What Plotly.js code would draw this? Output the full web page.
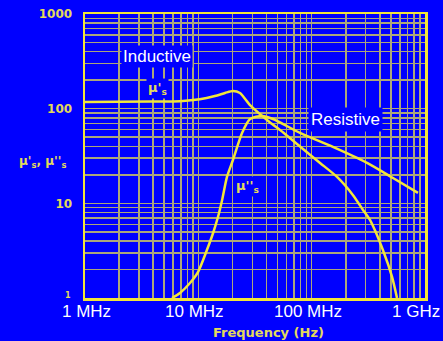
<!DOCTYPE html>
<html>
<head>
<meta charset="utf-8">
<script src="https://cdn.plot.ly/plotly-3.0.1.min.js"></script>
<style>html,body{margin:0;padding:0;background:#0000ff;}#chart{width:443px;height:341px;}</style>
</head>
<body>
<div id="chart"></div>
<script>
// Frequency (Hz) and permeability values
var muRealFreq = [1e6, 3.75e6, 6.9e6, 10.3e6, 14e6, 17.2e6, 20.2e6, 23.3e6, 28.6e6, 40.4e6, 58.2e6, 83.9e6, 118.6e6, 167.5e6, 231.7e6, 284e6, 327e6, 426e6, 512e6, 566e6];
var muRealVal  = [117.6, 119, 120, 125.6, 136, 146.5, 154, 146.5, 109, 75.9, 54.0, 37.5, 26.7, 19.0, 12.2, 8.5, 6.67, 3.2, 1.67, 1.0];

var muImagFreq = [5.86e6, 6.89e6, 8.44e6, 9.93e6, 11.9e6, 13.5e6, 14.9e6, 16.2e6, 17.9e6, 20.2e6, 24.3e6, 28.6e6, 36.5e6, 45.6e6, 78.9e6, 154e6, 308e6, 522e6, 867e6];
var muImagVal  = [1.0, 1.13, 1.44, 1.88, 3.21, 4.86, 7.17, 10.8, 19, 28.7, 55.4, 77.8, 83.8, 77.8, 55.4, 39.4, 26.7, 18.5, 12.9];

// Grid / tick positions
var xGridVals = [];
var yGridVals = [];
[6,7,8].forEach(function(e){ for (var m=1;m<10;m++) xGridVals.push(m*Math.pow(10,e)); });
xGridVals.push(1e9);
[0,1,2].forEach(function(e){ for (var m=1;m<10;m++) yGridVals.push(m*Math.pow(10,e)); });
yGridVals.push(1000);

var xTickVals = [1e6, 1e7, 1e8, 1e9];
var xTickText = ['1 MHz', '10 MHz', '100 MHz', '1 GHz'];
var xTickShift = [1, -4, -4, -9];
var yTickMap = {10: '10', 100: '100', 1000: '1000'};
var yTickText = yGridVals.map(function(v){ return yTickMap[v] || ''; });
var xGridText = xGridVals.map(function(){ return ''; });

var yellow = '#f2e53a';
var paleYellow = '#e3da5c';
var gridCol = '#aca67a';
var blue = '#0000ff';

var traces = [
  {x: muRealFreq, y: muRealVal, mode: 'lines', line: {color: yellow, width: 2.5, shape: 'spline', smoothing: 0.7}, hoverinfo: 'skip'},
  {x: muImagFreq, y: muImagVal, mode: 'lines', line: {color: yellow, width: 2.5, shape: 'spline', smoothing: 0.7}, hoverinfo: 'skip'}
];

var annotations = [];
xTickVals.forEach(function(v, i){
  annotations.push({x: Math.log10(v), y: 0, xref: 'x', yref: 'paper', yanchor: 'top', yshift: -2, xshift: xTickShift[i],
    text: xTickText[i], showarrow: false, font: {family: 'Liberation Sans, Arial, sans-serif', size: 17, color: '#ffffff'}});
});
annotations.push(
  {x: 0, y: 0, xref: 'paper', yref: 'paper', xanchor: 'right', yanchor: 'middle', xshift: -12, yshift: 3,
   text: '1', showarrow: false, font: {family: 'DejaVu Sans, sans-serif', size: 8, color: paleYellow, weight: 'bold'}},
  {x: Math.log10(4.28e6), y: Math.log10(352), xref: 'x', yref: 'y', text: 'Inductive', showarrow: false,
   font: {family: 'Liberation Sans, Arial, sans-serif', size: 17, color: '#ffffff'}, bgcolor: blue, borderpad: 1},
  {x: Math.log10(4.37e6), y: Math.log10(165), xref: 'x', yref: 'y', text: "μ'<sub>s</sub>", showarrow: false,
   font: {family: 'DejaVu Sans, sans-serif', size: 13, color: paleYellow, weight: 'bold'}, bgcolor: blue},
  {x: Math.log10(1.99e8), y: Math.log10(76.9), xref: 'x', yref: 'y', text: 'Resistive', showarrow: false,
   font: {family: 'Liberation Sans, Arial, sans-serif', size: 17, color: '#ffffff'}, bgcolor: blue, borderpad: 2},
  {x: Math.log10(2.72e7), y: Math.log10(14.9), xref: 'x', yref: 'y', text: "μ''<sub>s</sub>", showarrow: false,
   font: {family: 'DejaVu Sans, sans-serif', size: 13, color: paleYellow, weight: 'bold'}, bgcolor: blue},
  {x: -0.125, y: 0.479, xref: 'paper', yref: 'paper', xanchor: 'center', yanchor: 'middle', text: "μ'<sub>s</sub>, μ''<sub>s</sub>", showarrow: false,
   font: {family: 'DejaVu Sans, sans-serif', size: 12, color: paleYellow, weight: 'bold'}},
  {x: 0.541, y: -0.12, xref: 'paper', yref: 'paper', xanchor: 'center', yanchor: 'middle', text: 'Frequency (Hz)', showarrow: false,
   font: {family: 'DejaVu Sans, sans-serif', size: 13, color: paleYellow, weight: 'bold'}}
);

var layout = {
  width: 443, height: 341,
  margin: {l: 85, r: 18, t: 14, b: 43, pad: 0},
  paper_bgcolor: blue, plot_bgcolor: blue,
  showlegend: false,
  xaxis: {type: 'log', range: [6, 9], tickmode: 'array', tickvals: xGridVals, ticktext: xGridText,
    showgrid: true, gridcolor: gridCol, gridwidth: 1.5, zeroline: false,
    showline: true, linecolor: yellow, linewidth: 2.5, mirror: true, ticks: ''},
  yaxis: {type: 'log', range: [0, 3], tickmode: 'array', tickvals: yGridVals, ticktext: yTickText,
    showgrid: true, gridcolor: gridCol, gridwidth: 1.5, zeroline: false,
    showline: true, linecolor: yellow, linewidth: 2.5, mirror: true, ticks: '', ticklabelstandoff: 8,
    tickfont: {family: 'DejaVu Sans, sans-serif', size: 12, color: paleYellow, weight: 'bold'}},
  annotations: annotations
};

Plotly.newPlot('chart', traces, layout, {staticPlot: true, displayModeBar: false});
</script>
</body>
</html>
